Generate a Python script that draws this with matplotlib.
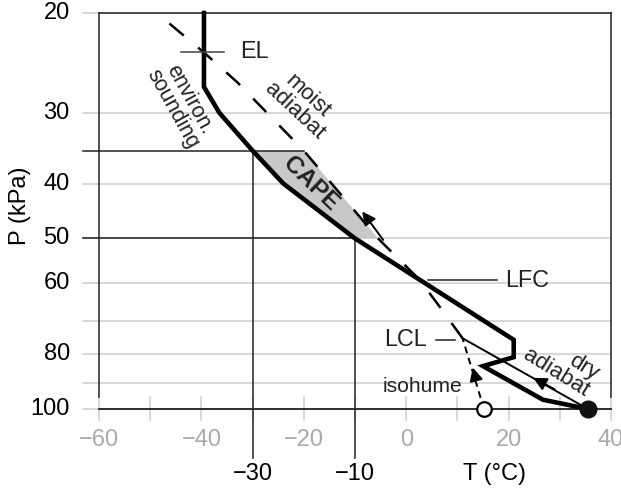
import numpy as np
import matplotlib
matplotlib.use("Agg")
import matplotlib.pyplot as plt

plt.rcParams['font.family'] = ['Liberation Sans', 'DejaVu Sans']

# ---------------- data ----------------
env_T = [-39.5, -39.5, -36.5, -30.0, -24.0, -10.0, 21.0, 21.0, 15.0, 26.7, 35.5]
env_P = [20.0, 27.0, 30.0, 35.0, 40.0, 50.0, 75.5, 81.0, 84.0, 96.3, 100.0]

moist_T = [11.0, 6.0, 2.5, -5.5, -20.0, -33.0, -39.7, -48.7]
moist_P = [75.0, 65.0, 59.0, 50.0, 35.0, 26.5, 23.4, 20.0]

dry_T = [35.5, 11.0]
dry_P = [100.0, 75.0]

isohume_T = [15.2, 11.0]
isohume_P = [100.0, 75.0]

surface_T, surface_P = 35.5, 100.0
dew_T, dew_P = 15.2, 100.0

cape_top_P, cape_bot_P = 35.0, 50.0

EL_P, LFC_P, LCL_P = 23.4, 59.2, 75.5

p_grid = [20, 30, 40, 50, 60, 70, 80, 90, 100]
p_ticklabels = [20, 30, 40, 50, 60, 80, 100]
t_ticks_minor = list(range(-60, 41, 10))
t_ticklabels = [-60, -40, -20, 0, 20, 40]
t_black_labels = [-30, -10]

# ---------------- figure ----------------
W, H = 621, 488
fig = plt.figure(figsize=(W / 100, H / 100), dpi=100)
ax = fig.add_axes([99 / W, (H - 409) / H, 512 / W, 396 / H])
ax.set_yscale('log')
ax.set_xlim(-60, 40)
ax.set_ylim(100, 20)
ax.axis('off')

GRID = '#cdcdcd'
TICKGRAY = '#aaaaaa'
x_left_ext = -63.1

# grid lines (gray) extended to the left
for p in p_grid:
    ax.plot([x_left_ext, 40], [p, p], color=GRID, lw=1.1, clip_on=False, zorder=1)

# gray vertical ticks across the bottom axis
for t in t_ticks_minor:
    ax.plot([t, t], [95.1, 104.5], color=GRID, lw=1.1, clip_on=False, zorder=1)

# frame
ax.plot([-60, -60], [20, 95.1], color='#222222', lw=1.1, clip_on=False, zorder=2)
ax.plot([40, 40], [20, 95.1], color='#222222', lw=1.1, clip_on=False, zorder=2)
ax.plot([-60, 40], [20, 20], color='#222222', lw=1.1, clip_on=False, zorder=2)
ax.plot([-60, 40], [100, 100], color='#111111', lw=1.2, clip_on=False, zorder=2)

# CAPE shading
lenv = np.log(env_P)
lmo = np.log(moist_P)
env_sel = [(t, p) for t, p in zip(env_T, env_P) if cape_top_P <= p <= cape_bot_P]
mo_sel = [(t, p) for t, p in zip(moist_T, moist_P) if cape_top_P <= p <= cape_bot_P]
mo_sel = sorted(mo_sel, key=lambda v: -v[1])
poly = env_sel + mo_sel
ax.fill([v[0] for v in poly], [v[1] for v in poly], color='#c8c8c8', zorder=3, lw=0)

# black reference lines at CAPE top / bottom
cape_top_right = np.interp(np.log(cape_top_P), lmo[::-1], np.array(moist_T)[::-1])
ax.plot([x_left_ext, cape_top_right], [cape_top_P, cape_top_P], color='#222222', lw=1.1,
        clip_on=False, zorder=4)
env_at_bot = np.interp(np.log(cape_bot_P), lenv, env_T)
ax.plot([x_left_ext, env_at_bot], [cape_bot_P, cape_bot_P], color='#222222', lw=1.1,
        clip_on=False, zorder=4)
env_at_top = np.interp(np.log(cape_top_P), lenv, env_T)
ax.plot([env_at_top, env_at_top], [cape_top_P, 121.9], color='#222222', lw=1.1,
        clip_on=False, zorder=4)
ax.plot([env_at_bot, env_at_bot], [cape_bot_P, 121.9], color='#222222', lw=1.1,
        clip_on=False, zorder=4)

# moist adiabat
ax.plot(moist_T, moist_P, color='black', lw=1.8, linestyle=(0, (7.5, 7.5)), zorder=5,
        clip_on=False)
# dry adiabat
ax.plot(dry_T, dry_P, color='black', lw=1.4, zorder=5)
# isohume
ax.plot(isohume_T, isohume_P, color='black', lw=1.4, linestyle=(0, (3.5, 2.5)), zorder=5)
# environment sounding
ax.plot(env_T, env_P, color='black', lw=3.3, zorder=6, solid_joinstyle='miter',
        clip_on=False)

# arrows
ap = dict(arrowstyle='-|>', color='black', lw=1.4, mutation_scale=20, shrinkA=0, shrinkB=0)
ax.annotate('', xy=(-8.6, 44.8), xytext=(-4.5, 50.3), arrowprops=ap, zorder=7)
ax.annotate('', xy=(24.8, 88.1), xytext=(29.0, 92.3), arrowprops=ap, zorder=7)
ax.annotate('', xy=(13.0, 84.5), xytext=(13.3, 86.5), arrowprops=ap, zorder=7)

# markers
ax.plot([surface_T], [surface_P], 'o', ms=12, color='#111111', zorder=8, clip_on=False)
ax.plot([dew_T], [dew_P], 'o', ms=10.5, mfc='white', mec='black', mew=1.6, zorder=8,
        clip_on=False)

# level labels
FS = 16.8
ax.plot([-44.0, -35.6], [EL_P, EL_P], color='#444444', lw=1.1, zorder=7)
ax.text(-32.5, EL_P, 'EL', fontsize=FS, ha='left', va='center', color='#222222')
ax.plot([4.3, 17.7], [LFC_P, LFC_P], color='#222222', lw=1.1, zorder=7)
ax.text(19.3, LFC_P, 'LFC', fontsize=FS, ha='left', va='center', color='#222222')
ax.plot([5.8, 9.5], [LCL_P, LCL_P], color='#222222', lw=1.1, zorder=7)
ax.text(4.1, LCL_P, 'LCL', fontsize=FS, ha='right', va='center', color='#222222')
ax.text(10.9, 91.3, 'isohume', fontsize=15.2, ha='right', va='center', color='#222222')

ax.text(-44.0, 29.0, 'environ.\nsounding', fontsize=15.5, rotation=-61, rotation_mode='anchor',
        ha='center', va='center', ma='center', color='#222222', linespacing=0.92)
ax.text(-20.5, 28.9, 'moist\nadiabat', fontsize=16, rotation=-43, rotation_mode='anchor',
        ha='center', va='center', ma='center', color='#222222', linespacing=0.92)
ax.text(-18.6, 40.0, 'CAPE', fontsize=17.5, fontweight='bold', rotation=-44,
        rotation_mode='anchor', ha='center', va='center', color='#222222')
ax.text(30.2, 83.3, 'dry\nadiabat', fontsize=16, rotation=-32, rotation_mode='anchor',
        ha='center', va='center', ma='right', color='#222222', linespacing=0.92)

# axis tick labels
TFS = 17
for p in p_ticklabels:
    ax.text(-65.7, p, str(p), fontsize=TFS, ha='right', va='center', color='black',
            clip_on=False)
for t in t_ticklabels:
    ax.text(t, 113.3, str(t).replace('-', '\u2212'), fontsize=TFS, ha='center',
            va='center', color=TICKGRAY, clip_on=False)
for t in t_black_labels:
    ax.text(t, 130.0, str(t).replace('-', '\u2212'), fontsize=TFS, ha='center',
            va='center', color='black', clip_on=False)

ax.text(17.3, 130.0, 'T (°C)', fontsize=TFS, ha='center', va='center', color='black')
ax.text(-75.4, 43.8, 'P (kPa)', fontsize=TFS, ha='center', va='center', rotation=90,
        color='black')

fig.savefig('out.png', dpi=100)
